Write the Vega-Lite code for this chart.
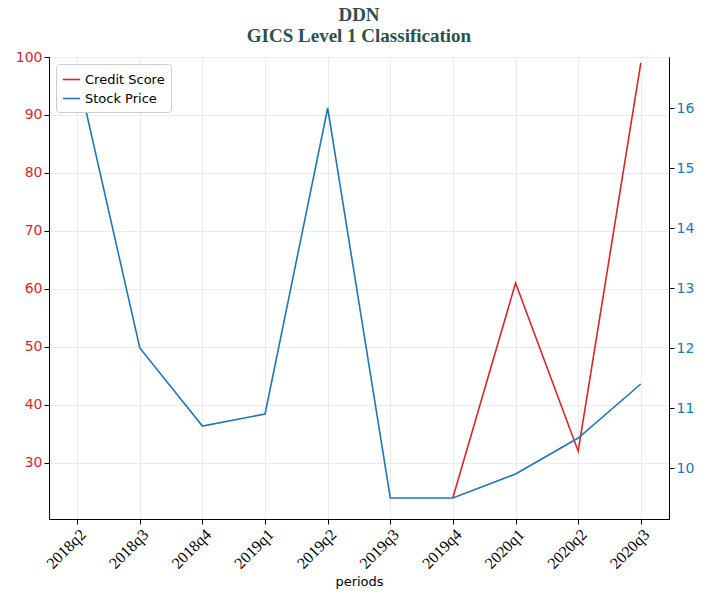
{
"$schema":"https://vega.github.io/schema/vega-lite/v6.json",
"width":620,"height":462,
"padding":{"left":15,"top":6,"right":5,"bottom":5},
"title":{"text":["DDN","GICS Level 1 Classification"],"font":"Liberation Serif","fontSize":19,"fontWeight":"bold","color":"#2f4f4f","offset":4},
"data":{"values":[
{"period":"2018q2","price":16.6},
{"period":"2018q3","price":12.0},
{"period":"2018q4","price":10.7},
{"period":"2019q1","price":10.9},
{"period":"2019q2","price":16.0},
{"period":"2019q3","price":9.5},
{"period":"2019q4","price":9.5,"score":24},
{"period":"2020q1","price":9.9,"score":61},
{"period":"2020q2","price":10.5,"score":32},
{"period":"2020q3","price":11.4,"score":99}
]},
"encoding":{"x":{"field":"period","type":"ordinal","title":"periods","scale":{"type":"point","padding":0.45},
"axis":{"labelAngle":-45,"labelFont":"Liberation Serif","labelFontSize":16,"labelColor":"black","titleFont":"DejaVu Sans","titleFontWeight":"normal","titleFontSize":13,"grid":true,"gridColor":"#ebebeb","domainColor":"black","tickColor":"black","labelAlign":"right","labelBaseline":"top","labelPadding":2}}},
"layer":[
{"transform":[{"filter":"datum.score != null"}],"mark":{"type":"line","strokeWidth":1.6},
"encoding":{"y":{"field":"score","type":"quantitative","scale":{"domain":[20.3,100],"nice":false,"zero":false},
"axis":{"title":null,"values":[30,40,50,60,70,80,90,100],"labelColor":"#d62728","labelFontSize":14,"labelFont":"DejaVu Sans","grid":true,"gridColor":"#ebebeb","domainColor":"black","tickColor":"black"}},
"color":{"datum":"Credit Score","type":"nominal","scale":{"domain":["Credit Score","Stock Price"],"range":["#d62728","#1f77b4"]},
"legend":{"title":null,"orient":"none","legendX":7,"legendY":7,"labelFontSize":13,"labelFont":"DejaVu Sans","symbolType":"stroke","symbolSize":300,"symbolStrokeWidth":1.6,"fillColor":"white","strokeColor":"#cccccc","padding":6,"cornerRadius":3}}}},
{"mark":{"type":"line","strokeWidth":1.6},
"encoding":{"y":{"field":"price","type":"quantitative","scale":{"domain":[9.15,16.85],"nice":false,"zero":false},
"axis":{"title":null,"orient":"right","values":[10,11,12,13,14,15,16],"labelColor":"#1f77b4","labelFontSize":14,"labelFont":"DejaVu Sans","grid":false,"domainColor":"black","tickColor":"black"}},
"color":{"datum":"Stock Price","type":"nominal"}}}
],
"resolve":{"scale":{"y":"independent"}},
"config":{"view":{"stroke":"black"}}
}
